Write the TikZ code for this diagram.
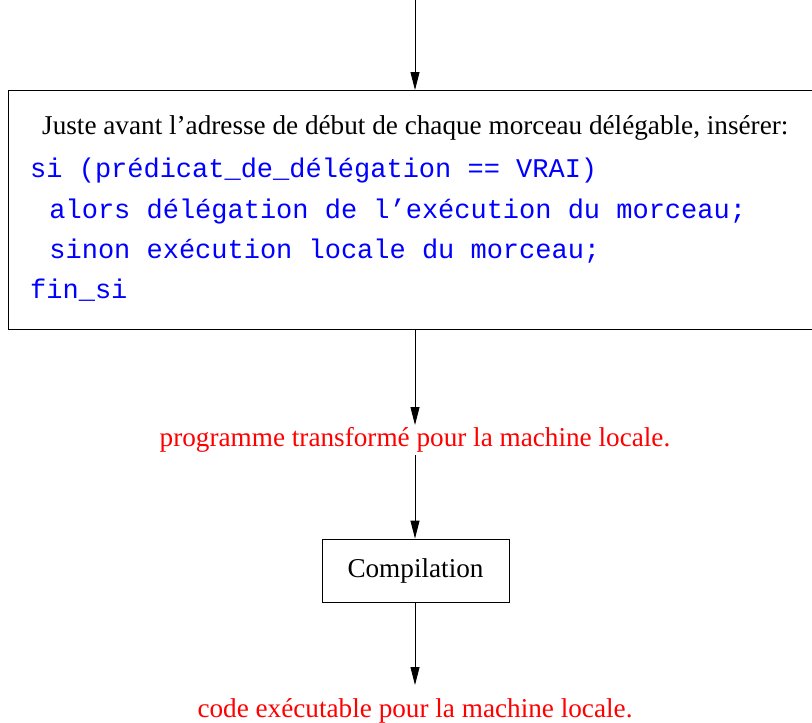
\documentclass[tikz,border=0pt]{standalone}
\usepackage{fontspec}
\setmainfont{Liberation Serif}
\setmonofont{Liberation Mono}
\usetikzlibrary{arrows.meta}
\begin{document}
\begin{tikzpicture}[x=1pt,y=-1pt,
  arr/.style={draw=black,line width=0.9pt,-{Triangle[length=18pt,width=9pt]}},
  boxst/.style={draw=black,line width=0.9pt},
  serif/.style={font=\fontsize{27.2}{32}\selectfont},
  code/.style={text=blue,anchor=base west,inner sep=0pt,font=\fontsize{27}{32}\ttfamily},
  redtext/.style={text=red,font=\fontsize{27.2}{32}\selectfont,inner sep=0pt}]
\useasboundingbox (0,0) rectangle (812,723);
\coordinate (top) at (415,0);
\node[boxst,anchor=north west,minimum width=810pt,minimum height=239pt,inner sep=0pt] (big) at (8,90) {};
\node[serif,anchor=base west,inner sep=0pt] (l0) at (42,134) {Juste avant l’adresse de début de chaque morceau délégable, insérer:};
\node[code] (l1) at (30,177) {si (prédicat\_de\_délégation == VRAI)};
\node[code] (l2) at (33,218) {\ alors délégation de l’exécution du morceau;};
\node[code] (l3) at (33,258) {\ sinon exécution locale du morceau;};
\node[code] (l4) at (30,298) {fin\_si};
\node[redtext,anchor=base] (t1) at (415,446) {programme transformé pour la machine locale.};
\node[boxst,minimum width=187pt,minimum height=63pt,inner sep=0pt,serif] (comp) at (415.5,570.5) {\raisebox{-3pt}{Compilation}};
\node[redtext,anchor=base] (t2) at (415,717) {code exécutable pour la machine locale.};
\draw[arr] (top) -- (big.north -| top);
\draw[arr] (big.south -| top) -- (415,425);
\draw[arr] (415,455) -- (comp.north -| top);
\draw[arr] (comp.south -| top) -- (415,685);
\end{tikzpicture}
\end{document}
